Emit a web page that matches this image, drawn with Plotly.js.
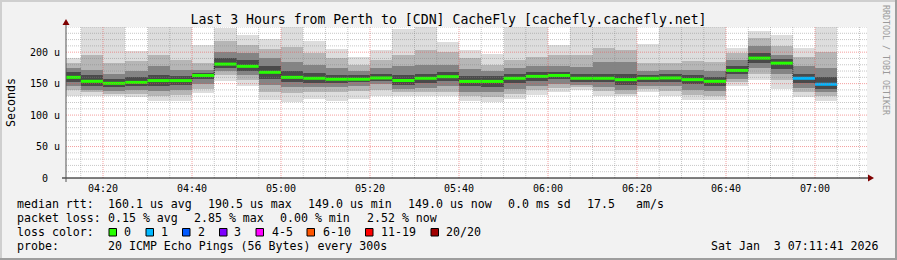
<!DOCTYPE html>
<html><head><meta charset="utf-8">
<script src="https://cdn.plot.ly/plotly-3.0.1.min.js"></script>
<style>html,body{margin:0;padding:0;background:#f2f2f2}#chart{width:897px;height:260px}</style>
</head><body><div id="chart"></div>
<script>
// ---- data (RTT in microseconds; each sample is the 5-minute step ending at endTimes[i]) ----
const endTimes = ["04:15","04:20","04:25","04:30","04:35","04:40","04:45","04:50","04:55",
  "05:00","05:05","05:10","05:15","05:20","05:25","05:30","05:35","05:40","05:45","05:50","05:55",
  "06:00","06:05","06:10","06:15","06:20","06:25","06:30","06:35","06:40","06:45","06:50","06:55",
  "07:00","07:05"];
const maxRtt = [190,245,245,202,245,245,212,238,228,221,245,217,205,192,204,237,245,216,203,197,245,245,211,245,245,245,213,245,245,245,206,233,227,207,245];
const hi2    = [182,195,183,186,196,188,182,217,212,205,209,199,191,180,188,196,204,200,190,180,188,192,195,196,207,204,182,183,186,185,198,222,210,192,200];
const hi3    = [175,172,165,170,178,172,172,200,198,190,185,180,175,170,175,178,180,180,174,170,175,178,178,176,184,184,170,172,172,170,188,210,196,178,175];
const hi4    = [168,163,157,160,163,162,167,190,188,178,170,167,164,163,165,164,166,168,162,162,166,168,169,166,166,166,164,165,163,161,178,198,189,166,160];
const medianRtt = [160,153.7,150.5,152,154.8,154.8,163,181,177.5,168,160,158.5,157,157,159,155,158.5,161,153.5,153.5,158.5,161.5,163,158.5,158.5,156.3,158.5,159,156.3,153.7,171,190.5,182.5,158.5,149];
const lo4    = [152,146,144,146,147,148,158,175,170,158,152,151,151,152,154,148,151,154,146,145,151,154,157,153,152,148,153,153,149,146,165,183,174,151,142];
const lo3    = [146,140,138,140,138,140,150,170,163,148,144,144,145,146,149,141,143,146,137,136,142,146,150,148,145,140,147,146,140,138,158,175,165,143,136];
const lo2    = [140,136,134,134,130,132,142,163,155,137,135,136,136,138,140,136,136,137,130,128,134,140,143,144,138,134,141,139,132,130,152,165,155,136,130];
const minRtt = [130,131,130,128,123,123,135,154,147,124.6,121,126,123,126,130,131,130,130,123,121,126,132.5,136,140,130,130,136,131,124.6,124.6,145.8,155,142,128,123];
const lossCount = [0,0,0,0,0,0,0,0,0,0,0,0,0,0,0,0,0,0,0,0,0,0,0,0,0,0,0,0,0,0,0,0,0,1,1];

const lossLabels = ["0","1","2","3","4-5","6-10","11-19","20/20"];
const lossColors = ["#26ff00","#00b8ff","#0059ff","#7e00ff","#ff00ff","#ff5500","#ff0000","#a00000"];
const yTickVals = [0,50,100,150,200];
const yTickText = ["0\u00a0\u00a0","50 u","100 u","150 u","200 u"];

// ---- helpers ----
const STEP = 300000;
const toMs = (hm, s) => { const [h,m] = hm.split(":").map(Number); return Date.UTC(2026,0,3,h,m,s||0); };
const ends = endTimes.map(t => toMs(t));
const starts = ends.map(e => e - STEP);
const centers = ends.map(e => e - STEP/2);
const PX = p => (p - 66) / 801;
const PY = p => (178 - p) / 151;
const MONO = "DejaVu Sans Mono";

const traces = [];
const layers = [[minRtt,maxRtt,"#dddddd"],[lo2,hi2,"#b6b6b6"],[lo3,hi3,"#848484"],[lo4,hi4,"#4a4a4a"]];
layers.forEach(([lo,hi,col]) => {
  traces.push({type:"bar", x:centers, base:lo, y:hi.map((v,i)=>v-lo[i]), width:STEP,
    marker:{color:col, line:{width:0}}, hoverinfo:"skip"});
});
// thin step connector of the median
traces.push({type:"scatter", mode:"lines", x:starts.concat([ends[ends.length-1]]),
  y:medianRtt.concat([medianRtt[medianRtt.length-1]]), line:{shape:"hv", color:"#1a1a1a", width:1, dash:"1px,1px"}, hoverinfo:"skip"});
// coloured median segments by loss
const lossIdx = n => n===0?0:n===1?1:n===2?2:n===3?3:n<=5?4:n<=10?5:n<=19?6:7;
lossColors.forEach((col, k) => {
  const xs=[], ys=[];
  medianRtt.forEach((m,i) => { if (lossIdx(lossCount[i])===k){ xs.push(starts[i],ends[i],null); ys.push(m,m,null);} });
  if (xs.length) traces.push({type:"scatter", mode:"lines", x:xs, y:ys, line:{color:col, width:3}, hoverinfo:"skip"});
});

const xr = [toMs("04:11",41), toMs("07:11",41)];
const shapes = [];
// grid (drawn over the smoke, like rrdtool)
for (let t = toMs("04:15"); t < xr[1]; t += STEP) {
  const major = new Date(t).getUTCMinutes() % 20 === 0;
  shapes.push({type:"line", layer:"above", xref:"x", yref:"paper", x0:t, x1:t, y0:0, y1:1,
    line:{color: major ? "rgba(235,80,80,0.55)" : "rgba(130,130,130,0.45)", width:1, dash:"1px,1px"}});
}
for (let v = 10; v <= 240; v += 10) {
  const major = v % 50 === 0;
  shapes.push({type:"line", layer:"above", xref:"paper", yref:"y", x0:0, x1:1, y0:v, y1:v,
    line:{color: major ? "rgba(235,80,80,0.55)" : "rgba(130,130,130,0.45)", width:1, dash:"1px,1px"}});
}
// axes + arrows
shapes.push({type:"line", layer:"above", xref:"paper", yref:"paper", x0:PX(62), x1:PX(869), y0:PY(178), y1:PY(178), line:{color:"#000", width:1}});
shapes.push({type:"line", layer:"above", xref:"paper", yref:"paper", x0:PX(66), x1:PX(66), y0:PY(182), y1:PY(24), line:{color:"#555", width:1}});
shapes.push({type:"path", layer:"above", xref:"paper", yref:"paper",
  path:`M${PX(868)},${PY(174.5)} L${PX(874)},${PY(178)} L${PX(868)},${PY(181.5)} Z`, fillcolor:"#7f0000", line:{width:0}});
shapes.push({type:"path", layer:"above", xref:"paper", yref:"paper",
  path:`M${PX(62.5)},${PY(25)} L${PX(66)},${PY(19)} L${PX(69.5)},${PY(25)} Z`, fillcolor:"#7f0000", line:{width:0}});
// frame
shapes.push({type:"rect", layer:"above", xref:"paper", yref:"paper", x0:PX(0), x1:PX(897), y0:PY(0), y1:PY(2), fillcolor:"#cfcfcf", line:{width:0}});
shapes.push({type:"rect", layer:"above", xref:"paper", yref:"paper", x0:PX(0), x1:PX(2), y0:PY(0), y1:PY(260), fillcolor:"#cfcfcf", line:{width:0}});
shapes.push({type:"rect", layer:"above", xref:"paper", yref:"paper", x0:PX(0), x1:PX(897), y0:PY(258), y1:PY(260), fillcolor:"#9e9e9e", line:{width:0}});
shapes.push({type:"rect", layer:"above", xref:"paper", yref:"paper", x0:PX(895), x1:PX(897), y0:PY(0), y1:PY(260), fillcolor:"#9e9e9e", line:{width:0}});

const annotations = [];
const ann = (text, px, py, extra) => annotations.push(Object.assign({text, xref:"paper", yref:"paper", x:PX(px), y:PY(py),
  xanchor:"left", yanchor:"middle", showarrow:false, borderpad:0, font:{family:MONO, size:11.6, color:"#000"}}, extra||{}));

ann("Seconds", 11, 103, {xanchor:"center", textangle:-90});
ann("RRDTOOL / TOBI OETIKER", 886, 60, {xanchor:"center", textangle:90, font:{family:MONO, size:8.3, color:"#9a9a9a"}});
// legend lines
ann("median rtt:", 16, 204); ann("160.1 us avg", 107, 204); ann("190.5 us max", 207, 204);
ann("149.0 us min", 307, 204); ann("149.0 us now", 407, 204); ann("0.0 ms sd", 507, 204);
ann("17.5", 586, 204); ann("am/s", 635, 204);
ann("packet loss:", 16, 218); ann("0.15 % avg", 107, 218); ann("2.85 % max", 193, 218);
ann("0.00 % min", 279, 218); ann("2.52 % now", 366, 218);
ann("loss color:", 16, 232);
const sqX = [109,146,182.5,219.5,256,307,365.5,431];
const lbX = [123,160,197,233,270.5,321.5,380,445];
lossLabels.forEach((lab,k) => {
  shapes.push({type:"rect", layer:"above", xref:"paper", yref:"paper", x0:PX(sqX[k]), x1:PX(sqX[k]+7.5), y0:PY(228.5), y1:PY(236),
    fillcolor:lossColors[k], line:{color:"#000", width:1}});
  ann(lab, lbX[k], 232);
});
ann("probe:", 16, 246); ann("20 ICMP Echo Pings (56 Bytes) every 300s", 107, 246);
ann("Sat Jan\u00a0\u00a03 07:11:41 2026", 880, 246, {xanchor:"right"});

const layout = {
  width:897, height:260, margin:{l:66, r:30, t:27, b:82, pad:0},
  paper_bgcolor:"#f2f2f2", plot_bgcolor:"#ffffff",
  font:{family:MONO, size:10, color:"#000"},
  showlegend:false, barmode:"overlay", bargap:0,
  title:{text:"Last 3 Hours from Perth to [CDN] CacheFly [cachefly.cachefly.net]", font:{family:MONO, size:13.2, color:"#000"},
    xref:"container", x:0.5, xanchor:"center", yref:"container", y:1-19/260, yanchor:"middle"},
  xaxis:{type:"date", range:xr, tickformat:"%H:%M", dtick:1200000, tick0:toMs("04:20"),
    showgrid:false, zeroline:false, showline:false, ticks:"", tickfont:{family:MONO, size:10}, ticklabelstandoff:3},
  yaxis:{range:[0,240], tickvals:yTickVals, ticktext:yTickText, showgrid:false, zeroline:false, showline:false, ticks:"",
    tickfont:{family:MONO, size:10}, ticklabelstandoff:5},
  shapes, annotations
};
Plotly.newPlot("chart", traces, layout, {staticPlot:true, displayModeBar:false});
</script></body></html>
